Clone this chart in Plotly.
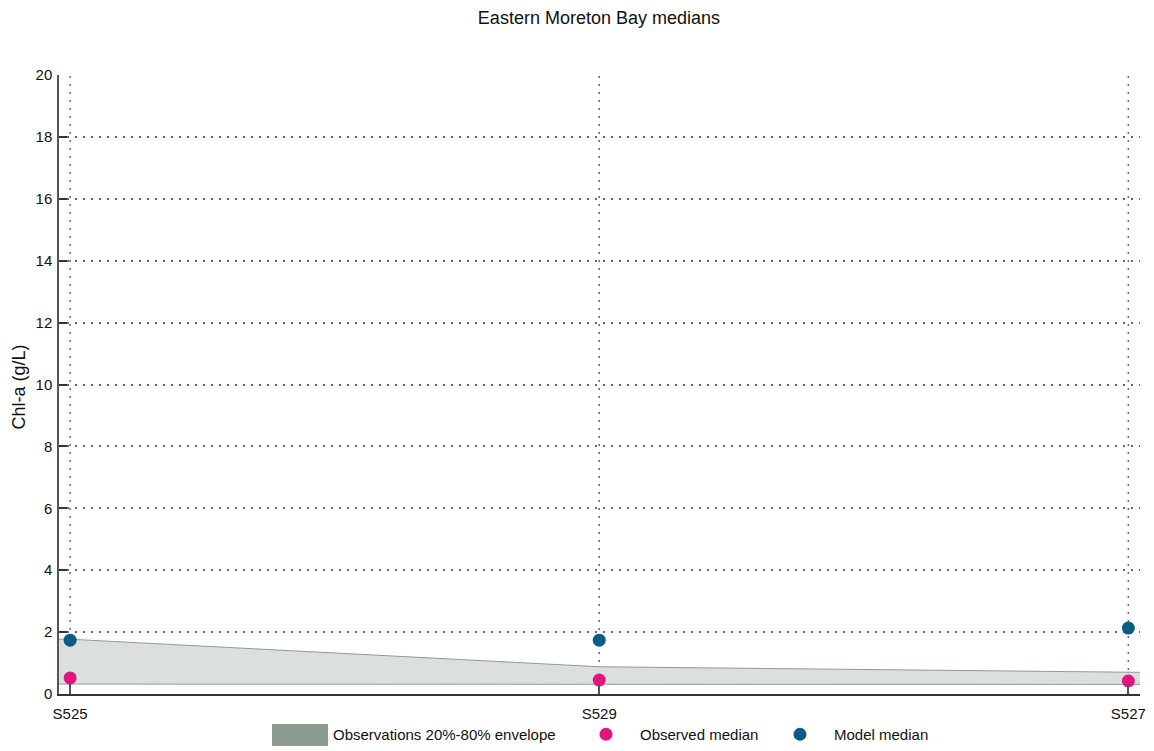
import plotly.graph_objects as go

sites = ["S525", "S529", "S527"]
env_low = [0.32, 0.32, 0.31]
env_high = [1.77, 0.88, 0.70]
obs_median = [0.52, 0.45, 0.42]
model_median = [1.74, 1.74, 2.13]
y_ticks = list(range(0, 21, 2))

xpos = list(range(len(sites)))
x_lo, x_hi = -0.021, len(sites) - 1 + 0.022

env_x = [x_lo] + xpos + [x_hi]
env_hi_ext = [env_high[0]] + env_high + [env_high[-1]]
env_lo_ext = [env_low[0]] + env_low + [env_low[-1]]

FONT = "Liberation Sans, Arial, sans-serif"
DOT = "2px,6px"
SWATCH = "#8c9a91"

fig = go.Figure()
fig.add_trace(go.Scatter(
    x=env_x, y=env_lo_ext, mode="lines",
    line=dict(color="#8e9d93", width=1), showlegend=False, hoverinfo="skip"))
fig.add_trace(go.Scatter(
    x=env_x, y=env_hi_ext, mode="lines", fill="tonexty",
    fillcolor="#dbe0dc", line=dict(color="#8e9d93", width=1),
    name="Observations 20%-80% envelope", showlegend=False))
fig.add_trace(go.Scatter(
    x=[None], y=[None], mode="lines",
    line=dict(color=SWATCH, width=10),
    name="Observations 20%-80% envelope", legend="legend"))
fig.add_trace(go.Scatter(
    x=xpos, y=obs_median, mode="markers",
    marker=dict(size=13, color="#e2157f", line=dict(width=0)),
    name="Observed median", legend="legend2"))
fig.add_trace(go.Scatter(
    x=xpos, y=model_median, mode="markers",
    marker=dict(size=13, color="#0b5b87", line=dict(width=0)),
    name="Model median", legend="legend3"))

for xv in xpos:
    fig.add_shape(type="line", xref="x", yref="y", x0=xv, x1=xv, y0=0, y1=20,
                  line=dict(color="#666666", width=1.5, dash=DOT), layer="below")

# legend swatch background (taller rectangle, legend decoration)
fig.add_shape(type="rect", xref="paper", yref="paper",
              x0=(272 - 59) / 1081, x1=(328 - 59) / 1081,
              y0=(694 - 746) / 619, y1=(694 - 724) / 619,
              fillcolor=SWATCH, line=dict(width=0), layer="above")

fig.add_annotation(text="Chl-a (g/L)", xref="paper", yref="paper",
                   x=-0.037, y=0.495, xanchor="center", yanchor="middle",
                   textangle=-90, showarrow=False,
                   font=dict(size=18, family=FONT, color="#111111"))

leg_common = dict(orientation="h", xref="container", yref="container",
                  y=0.0, yanchor="bottom", xanchor="left",
                  font=dict(size=15, family=FONT, color="#111111"),
                  bgcolor="rgba(0,0,0,0)")

fig.update_layout(
    width=1154, height=751,
    margin=dict(l=59, r=14, t=75, b=57),
    paper_bgcolor="white", plot_bgcolor="white",
    font=dict(family=FONT, size=14, color="#111111"),
    title=dict(text="Eastern Moreton Bay medians", x=0.519, xanchor="center",
               y=0.976, yanchor="middle", font=dict(size=18, family=FONT)),
    showlegend=True,
    legend=dict(x=267 / 1154, itemwidth=56, **leg_common),
    legend2=dict(x=572 / 1154, itemwidth=58, **leg_common),
    legend3=dict(x=766 / 1154, itemwidth=58, **leg_common),
    xaxis=dict(
        range=[x_lo, x_hi], tickmode="array", tickvals=xpos, ticktext=sites,
        automargin=False, ticklabelstandoff=5,
        showgrid=False, zeroline=False, showline=True, linecolor="#333333", linewidth=1.5,
        ticks="inside", ticklen=10, tickcolor="#555555", tickwidth=1.5,
        tickfont=dict(size=15, family=FONT)),
    yaxis=dict(
        range=[0, 20], tickmode="array", tickvals=y_ticks, automargin=False,
        ticklabelstandoff=2,
        showgrid=True, gridcolor="#666666", griddash=DOT, gridwidth=1.5,
        zeroline=False, showline=True, linecolor="#555555", linewidth=1.5,
        ticks="inside", ticklen=8, tickcolor="#333333", tickwidth=1.5,
        tickfont=dict(size=15, family=FONT)),
)

fig.write_html("out.html", config={"displayModeBar": False},
               post_script="document.body.style.margin='0';document.body.style.overflow='hidden';")
